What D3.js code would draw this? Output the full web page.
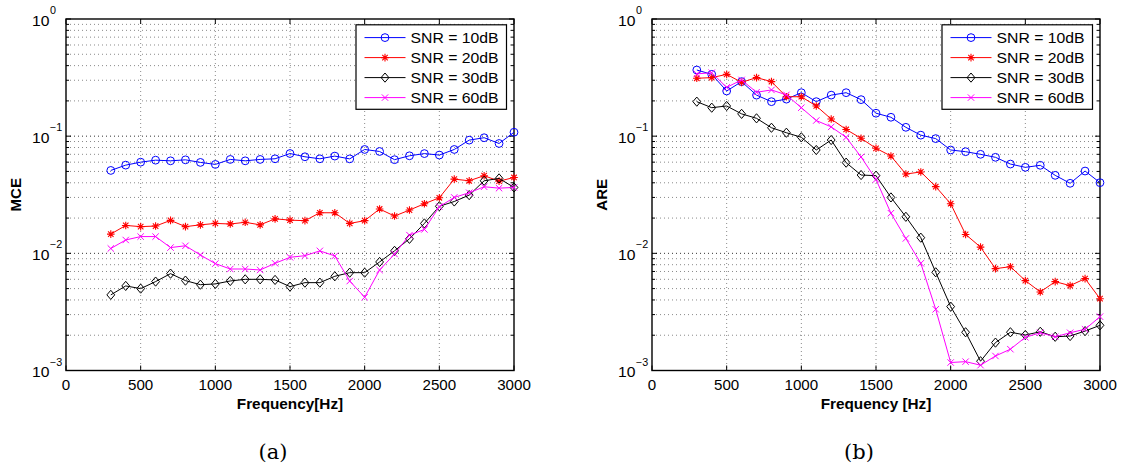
<!DOCTYPE html>
<html>
<head>
<meta charset="utf-8">
<script src="https://cdn.jsdelivr.net/npm/d3@7"></script>
<style>
  html, body { margin: 0; padding: 0; background: #fff; }
  svg { display: block; }
  text { font-family: "Liberation Sans", Arial, Helvetica, sans-serif; fill: #000; }
</style>
</head>
<body>
<svg id="chart" width="1121" height="468"></svg>
<script>
// ---------------- data ----------------
const freqs = [300, 400, 500, 600, 700, 800, 900, 1000, 1100, 1200, 1300, 1400, 1500, 1600,
               1700, 1800, 1900, 2000, 2100, 2200, 2300, 2400, 2500, 2600, 2700, 2800, 2900, 3000];

const seriesLabels = ["SNR = 10dB", "SNR = 20dB", "SNR = 30dB", "SNR = 60dB"];
const seriesColors = ["#0000ff", "#ff0000", "#000000", "#ff00ff"];
const seriesMarkers = ["circle", "asterisk", "diamond", "cross"];

// (a) MCE
const mce10 = [0.051, 0.0566, 0.060, 0.0624, 0.0616, 0.0628, 0.0597, 0.0574, 0.0633, 0.0616, 0.0633, 0.0641, 0.0711, 0.0667,
               0.0641, 0.0676, 0.064, 0.077, 0.074, 0.063, 0.068, 0.071, 0.069, 0.077, 0.0925, 0.097, 0.0866, 0.108];
const mce20 = [0.0146, 0.0173, 0.0169, 0.0171, 0.0191, 0.0169, 0.0175, 0.018, 0.0178, 0.0184, 0.0175, 0.0197, 0.0192, 0.019,
               0.0222, 0.0222, 0.018, 0.019, 0.0239, 0.0208, 0.0234, 0.0265, 0.0298, 0.043, 0.0416, 0.046, 0.0413, 0.0444];
const mce30 = [0.00442, 0.00527, 0.0050, 0.00574, 0.00671, 0.00585, 0.0054, 0.00548, 0.00581, 0.006, 0.006, 0.00593, 0.0052, 0.00562,
               0.00562, 0.00637, 0.00684, 0.00684, 0.00844, 0.0105, 0.0133, 0.018, 0.0252, 0.0277, 0.0314, 0.0416, 0.0436, 0.0365];
const mce60 = [0.011, 0.013, 0.0139, 0.0139, 0.0112, 0.0116, 0.00968, 0.00817, 0.00735, 0.00735, 0.00721, 0.00822, 0.00925, 0.00955,
               0.0105, 0.0095, 0.0058, 0.00422, 0.0072, 0.00987, 0.0143, 0.016, 0.025, 0.030, 0.0329, 0.037, 0.036, 0.0365];

// (b) ARE
const are10 = [0.367, 0.337, 0.243, 0.292, 0.224, 0.197, 0.207, 0.235, 0.197, 0.224, 0.235, 0.205, 0.157, 0.145,
               0.119, 0.102, 0.0953, 0.0762, 0.0737, 0.070, 0.066, 0.0578, 0.0542, 0.0564, 0.0463, 0.0396, 0.0504, 0.0401];
const are20 = [0.312, 0.316, 0.337, 0.288, 0.316, 0.292, 0.217, 0.217, 0.181, 0.140, 0.114, 0.0959, 0.0788, 0.0677,
               0.0475, 0.0495, 0.0371, 0.0265, 0.0145, 0.0113, 0.0074, 0.00769, 0.00585, 0.00468, 0.00573, 0.0053, 0.00608, 0.0041];
const are30 = [0.197, 0.175, 0.181, 0.155, 0.142, 0.118, 0.107, 0.0978, 0.0762, 0.0927, 0.0594, 0.0466, 0.0460, 0.0300,
               0.0205, 0.0136, 0.00689, 0.00351, 0.00212, 0.0012, 0.00173, 0.00212, 0.00201, 0.00214, 0.00194, 0.00197, 0.00217, 0.00243];
const are60 = [0.34, 0.348, 0.261, 0.302, 0.237, 0.248, 0.225, 0.175, 0.136, 0.12, 0.0978, 0.0665, 0.0427, 0.022,
               0.0134, 0.00822, 0.00333, 0.00117, 0.00119, 0.00111, 0.00133, 0.00152, 0.00192, 0.0021, 0.00194, 0.0021, 0.00225, 0.00288];

const xTicks = [0, 500, 1000, 1500, 2000, 2500, 3000];
const yTickExps = [0, -1, -2, -3];

// ---------------- layout ----------------
const SX = 1.08;           // horizontal text stretch of the source image
const plotTop = 19, plotBottom = 370.5;
const panels = [
  { x0: 66, x1: 514, ylabel: "MCE", xlabel: "Frequency[Hz]", caption: "(a)", data: [mce10, mce20, mce30, mce60] },
  { x0: 652, x1: 1100, ylabel: "ARE", xlabel: "Frequency [Hz]", caption: "(b)", data: [are10, are20, are30, are60] }
];

const svg = d3.select("#chart");

function stext(g, x, y, str, size, opts = {}) {
  const t = g.append("text")
    .attr("transform", `translate(${x},${y})${opts.rotate ? " rotate(" + opts.rotate + ")" : ""} scale(${opts.sx || SX},1)`)
    .attr("font-size", size)
    .attr("text-anchor", opts.anchor || "start");
  if (opts.weight) t.attr("font-weight", opts.weight);
  if (opts.family) t.style("font-family", opts.family);
  if (str !== null) t.text(str);
  return t;
}

function drawMarker(g, type, cx, cy, color) {
  if (type === "circle") {
    g.append("circle").attr("cx", cx).attr("cy", cy).attr("r", 3.9)
      .attr("fill", "none").attr("stroke", color).attr("stroke-width", 1);
  } else if (type === "diamond") {
    const s = 4.6;
    g.append("path").attr("d", `M${cx},${cy - s}L${cx + s * 0.85},${cy}L${cx},${cy + s}L${cx - s * 0.85},${cy}Z`)
      .attr("fill", "none").attr("stroke", color).attr("stroke-width", 1);
  } else if (type === "asterisk") {
    const s = 3.8, d = s * 0.72;
    g.append("path").attr("d",
      `M${cx - s},${cy}L${cx + s},${cy}M${cx},${cy - s}L${cx},${cy + s}` +
      `M${cx - d},${cy - d}L${cx + d},${cy + d}M${cx - d},${cy + d}L${cx + d},${cy - d}`)
      .attr("stroke", color).attr("stroke-width", 1.1).attr("fill", "none");
  } else if (type === "cross") {
    const s = 3.2;
    g.append("path").attr("d", `M${cx - s},${cy - s}L${cx + s},${cy + s}M${cx - s},${cy + s}L${cx + s},${cy - s}`)
      .attr("stroke", color).attr("stroke-width", 1).attr("fill", "none");
  }
}

panels.forEach(p => {
  const g = svg.append("g");
  const x = d3.scaleLinear().domain([0, 3000]).range([p.x0, p.x1]);
  const y = d3.scaleLog().domain([1e-3, 1]).range([plotBottom, plotTop]);

  // grid
  const grid = g.append("g");
  y.ticks().forEach(v => {
    const yy = y(v);
    if (Math.abs(yy - plotTop) < 1 || Math.abs(yy - plotBottom) < 1) return;
    const major = Math.abs(Math.log10(v) - Math.round(Math.log10(v))) < 1e-6;
    grid.append("line").attr("x1", p.x0).attr("x2", p.x1).attr("y1", yy).attr("y2", yy)
      .attr("stroke", major ? "#333" : "#8a8a8a").attr("stroke-width", 1)
      .attr("stroke-dasharray", "1,3");
  });
  xTicks.forEach(v => {
    const xx = x(v);
    if (v === 0 || v === 3000) return;
    grid.append("line").attr("x1", xx).attr("x2", xx).attr("y1", plotTop).attr("y2", plotBottom)
      .attr("stroke", "#8a8a8a").attr("stroke-width", 1).attr("stroke-dasharray", "1,3");
  });

  // ticks (inside, both sides)
  const tk = g.append("g").attr("stroke", "#000").attr("stroke-width", 1);
  y.ticks().forEach(v => {
    const yy = y(v);
    const major = Math.abs(Math.log10(v) - Math.round(Math.log10(v))) < 1e-6;
    const L = major ? 5 : 3;
    tk.append("line").attr("x1", p.x0).attr("x2", p.x0 + L).attr("y1", yy).attr("y2", yy);
    tk.append("line").attr("x1", p.x1).attr("x2", p.x1 - L).attr("y1", yy).attr("y2", yy);
  });
  xTicks.forEach(v => {
    const xx = x(v);
    tk.append("line").attr("x1", xx).attr("x2", xx).attr("y1", plotBottom).attr("y2", plotBottom - 5);
    tk.append("line").attr("x1", xx).attr("x2", xx).attr("y1", plotTop).attr("y2", plotTop + 5);
  });

  // frame
  g.append("rect").attr("x", p.x0).attr("y", plotTop).attr("width", p.x1 - p.x0).attr("height", plotBottom - plotTop)
    .attr("fill", "none").attr("stroke", "#000").attr("stroke-width", 1.4);

  // x tick labels
  xTicks.forEach(v => {
    stext(g, x(v), plotBottom + 19, String(v), 14, { anchor: "middle" });
  });
  // y tick labels: 10^e
  yTickExps.forEach(e => {
    const yy = y(Math.pow(10, e));
    const t = stext(g, p.x0 - 34, yy + 6.5, null, 14.5);
    t.append("tspan").text("10");
    t.append("tspan").attr("font-size", 10).attr("dy", -11.5).attr("dx", 0.5)
      .text(e === 0 ? "0" : "\u2212" + Math.abs(e));
  });

  // axis titles
  stext(g, (p.x0 + p.x1) / 2, plotBottom + 38, p.xlabel, 14.2, { anchor: "middle", weight: "bold" });
  stext(g, p.x0 - 45.5, (plotTop + plotBottom) / 2, p.ylabel, 14.5, { anchor: "middle", weight: "bold", rotate: -90, sx: 1.04 });

  // caption
  stext(g, (p.x0 + p.x1) / 2 - 17, 459, p.caption, 21, { anchor: "middle", family: "'DejaVu Serif', 'Liberation Serif', serif", sx: 1.0 });

  // series
  p.data.forEach((vals, i) => {
    const color = seriesColors[i];
    const line = d3.line().x((d, j) => x(freqs[j])).y(d => y(d));
    g.append("path").datum(vals).attr("d", line)
      .attr("fill", "none").attr("stroke", color).attr("stroke-width", 1);
    const mg = g.append("g");
    vals.forEach((v, j) => drawMarker(mg, seriesMarkers[i], x(freqs[j]), y(v), color));
  });

  // legend
  const lw = 150.5, lh = 84.5;
  const lx = p.x1 - 7.5 - lw, ly = 24.8;
  const lg = g.append("g");
  lg.append("rect").attr("x", lx).attr("y", ly).attr("width", lw).attr("height", lh)
    .attr("fill", "#fff").attr("stroke", "#000").attr("stroke-width", 1.2);
  seriesLabels.forEach((lab, i) => {
    const ry = ly + 12.8 + i * 20;
    lg.append("line").attr("x1", lx + 8.5).attr("x2", lx + 49.5).attr("y1", ry).attr("y2", ry)
      .attr("stroke", seriesColors[i]).attr("stroke-width", 1);
    drawMarker(lg, seriesMarkers[i], lx + 29, ry, seriesColors[i]);
    stext(lg, lx + 54.5, ry + 5.3, lab, 14.6);
  });
});
</script>
</body>
</html>
